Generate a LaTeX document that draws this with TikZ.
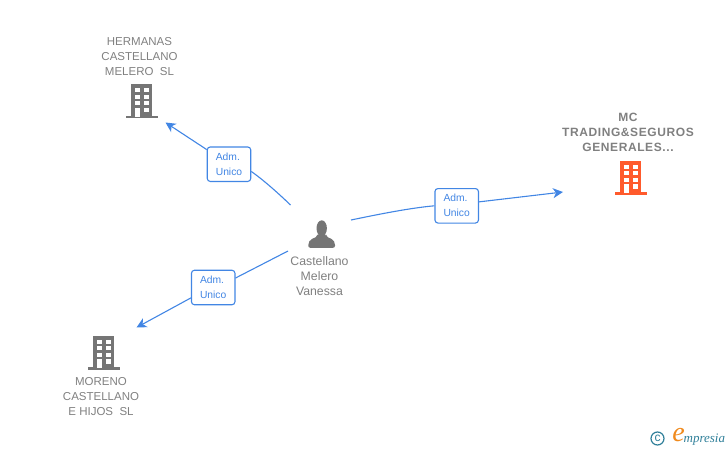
\documentclass[tikz,border=0pt]{standalone}
\usepackage{fontspec}
\setmainfont{Liberation Sans}
\newfontfamily\logofont{Liberation Serif}
\usetikzlibrary{arrows.meta}
\colorlet{labelgray}{black!50}
\colorlet{icongray}{black!54}
\definecolor{linkblue}{HTML}{4286E4}
\definecolor{mainorange}{HTML}{FF5A2C}
\definecolor{logoteal}{HTML}{2F7F99}
\definecolor{logoorange}{HTML}{F08A1D}
\tikzset{
  company/.style={align=center,inner sep=0pt,text=labelgray,font=\fontsize{11.5}{15}\selectfont},
  badge/.style={draw=linkblue,fill=white,rounded corners=3pt,line width=1.1pt,minimum width=43.5pt,
    minimum height=34.5pt,inner sep=0pt,align=left,text=linkblue,font=\fontsize{10.3}{15}\selectfont},
  wire/.style={draw=linkblue,line width=1.1pt},
  tip/.style={wire,-{Stealth[length=10pt,width=10pt,inset=3pt]}},
  building/.pic={
    \fill (-10.8,-32.5) rectangle (10.8,0);
    \fill (-16,-1) rectangle (16,1.5);
    \foreach \row in {-28.5,-22,-15.5}{
      \fill[white] (-7,\row) rectangle ++(5,4.2);
      \fill[white] (2,\row) rectangle ++(5,4.2);
    }
    \fill[white] (-7,-9) rectangle (-2,0);
    \fill[white] (2,-9) rectangle (7,-4.5);
  }
}
\begin{document}
\begin{tikzpicture}[x=1pt,y=-1pt]
    \useasboundingbox (0,0) rectangle (728,450);
    % Companies
    \path[icongray] (141.5,116.5) pic {building};
    \path[icongray] (103.5,368) pic {building};
    \path[mainorange] (630.5,193) pic {building};
    \node[company] (hermanas) at (139.5,56.7) {HERMANAS\\CASTELLANO\\MELERO\ \ SL};
    \node[company] (moreno) at (101,396.5) {MORENO\\CASTELLANO\\E HIJOS\ \ SL};
    \node[company,font=\fontsize{12}{15}\selectfont\bfseries\addfontfeature{LetterSpace=5}] (trading) at (628,132)
      {MC\\TRADING\&SEGUROS\\GENERALES...};
    % Person
    \fill[icongray] (321.7,228.3) ellipse (5.2 and 8);
    \fill[icongray,rounded corners=2pt] (317.5,234) -- (317.5,236.5) -- (310.5,239.5)
      -- (308.3,243) -- (308.3,247.8) -- (335,247.8) -- (335,243) -- (333,239.5)
      -- (326,236.5) -- (326,234) -- cycle;
    \node[company,font=\fontsize{12.3}{15}\selectfont] (castellano) at (319.5,276) {Castellano\\Melero\\Vanessa};
    % Badges
    \node[badge] (admA) at (229,164.2) {Adm.\\Unico};
    \node[badge] (admB) at (456.7,205.8) {Adm.\\Unico};
    \node[badge] (admC) at (213.2,287.5) {Adm.\\Unico};
    % Wires
    \coordinate (startA) at (290.5,205);
    \coordinate (startB) at (351,220);
    \coordinate (startC) at (288,251);
    \coordinate (endA) at (165.5,122.5);
    \coordinate (endB) at (563,192);
    \coordinate (endC) at (136.5,327.5);
    \draw[wire] (startA) .. controls (276,191) and (262,179) .. (admA.-18);
    \draw[tip] (admA) -- (endA);
    \draw[wire] (startB) .. controls (380,214) and (410,208) .. (admB.west);
    \draw[tip] (admB.10) -- (endB);
    \draw[wire] (startC) -- (admC.23);
    \draw[tip] (admC.205) -- (endC);
    % Logo
    \node[circle,draw=logoteal,line width=1.2pt,minimum size=13pt,inner sep=0pt,text=logoteal,
      font=\fontsize{12}{12}\selectfont] (copyright) at (657.5,438.5) {c};
    \node[inner sep=0pt,text=logoorange,font=\logofont\fontsize{28}{28}\selectfont\itshape] (logoe) at (678.5,435.5) {e};
    \node[inner sep=0pt,anchor=west,text=logoteal,font=\logofont\fontsize{13}{15}\selectfont\itshape] (logotext) at (683.5,440) {mpresia};
  \end{tikzpicture}
\end{document}
